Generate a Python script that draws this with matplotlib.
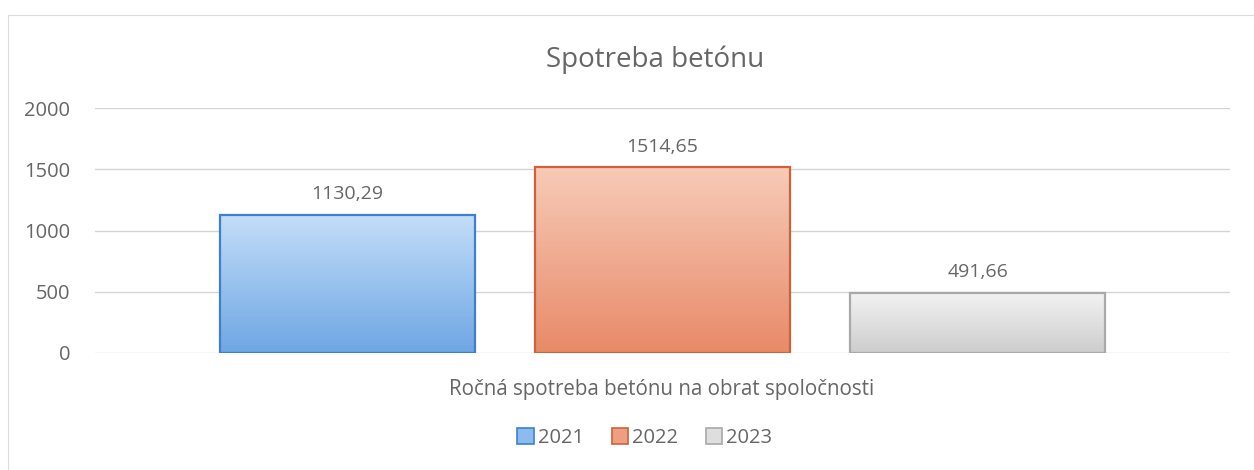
import matplotlib
matplotlib.use("Agg")
import matplotlib.pyplot as plt
import numpy as np
from matplotlib.colors import LinearSegmentedColormap
from matplotlib.patches import Rectangle, Patch

years = ["2021", "2022", "2023"]
values = [1130.29, 1514.65, 491.66]
value_labels = ["1130,29", "1514,65", "491,66"]
category = "Ročná spotreba betónu na obrat spoločnosti"
title = "Spotreba betónu"
yticks = [0, 500, 1000, 1500, 2000]

top_colors = ["#c4def8", "#f7cbb8", "#f3f3f3"]
bot_colors = ["#6ea6e4", "#e88a68", "#cdcdcd"]
edge_colors = ["#3f7fcf", "#d0603a", "#a9a9a9"]
legend_face = ["#8dbbee", "#ee9f82", "#dedede"]
txt = '#666666'

plt.rcParams['font.family'] = ['Open Sans', 'DejaVu Sans']
fig = plt.figure(figsize=(12.54, 4.70), dpi=100)
ax = fig.add_axes([95/1254, 1-353/470, (1230-95)/1254, (353-108)/470])

offsets = np.array([-1, 0, 1])
width = 0.81
bars = ax.bar(offsets, values, width=width, facecolor='none',
              edgecolor=edge_colors, linewidth=1.6, zorder=3)
grad = np.linspace(1, 0, 256).reshape(-1, 1)
for b, tc, bc in zip(bars, top_colors, bot_colors):
    cmap = LinearSegmentedColormap.from_list("g", [bc, tc])
    x0, w, h = b.get_x(), b.get_width(), b.get_height()
    ax.imshow(grad, cmap=cmap, extent=(x0, x0 + w, 0, h), aspect='auto',
              origin='upper', zorder=2, vmin=0, vmax=1)
for b, lab in zip(bars, value_labels):
    ax.annotate(lab, (b.get_x() + b.get_width()/2, b.get_height()),
                xytext=(0, 15), textcoords='offset points', ha='center',
                va='center', fontsize=14, color=txt)

ax.set_xlim(-1.8, 1.8)
ax.set_ylim(0, 2000)
ax.set_yticks(yticks)
ax.set_yticklabels([str(t) for t in yticks], fontsize=14.5, color=txt)
ax.tick_params(axis='y', length=0, pad=18)
ax.set_xticks([])
ax.grid(axis='y', color='#d4d4d4', linewidth=1)
ax.set_axisbelow(True)
for s in ax.spines.values():
    s.set_visible(False)

fig.text(655/1254, 1-60/470, title, ha='center', va='center',
         fontsize=20, color=txt)
fig.text(662/1254, 1-390/470, category, ha='center', va='center',
         fontsize=14.8, color=txt)

handles = [Patch(facecolor=f, edgecolor=e, linewidth=1.2) for f, e in zip(legend_face, edge_colors)]
fig.legend(handles, years, loc='center', bbox_to_anchor=(645/1254, 1-438/470),
           ncol=3, frameon=False, fontsize=14.5, labelcolor=txt,
           handlelength=0.8, handleheight=0.8, handletextpad=0.2, columnspacing=1.4)

fig.add_artist(Rectangle((8/1254, 0.0), 1.2, 1-15/470, transform=fig.transFigure,
                         fill=False, edgecolor='#dcdcdc', linewidth=0.8))

fig.savefig("out.png", dpi=100)
